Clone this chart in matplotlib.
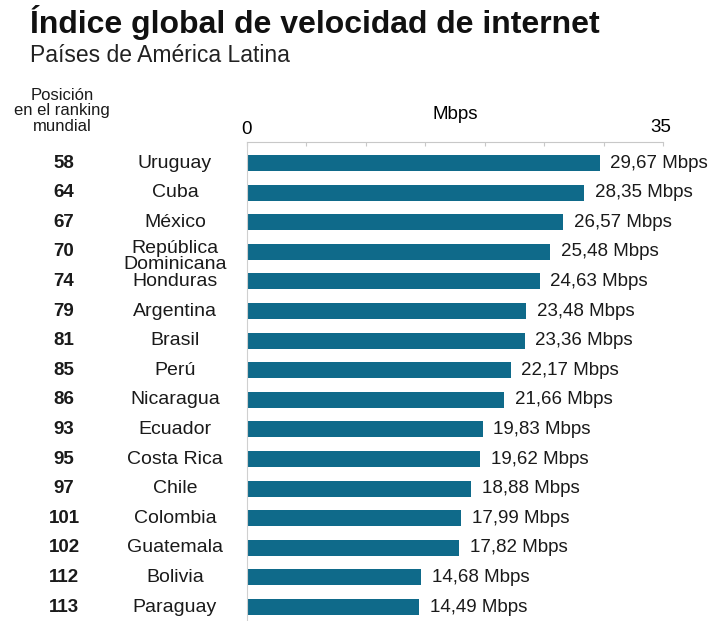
import numpy as np
import matplotlib.pyplot as plt

plt.rcParams['font.family'] = ['Liberation Sans', 'DejaVu Sans']

paises = ["Uruguay", "Cuba", "México", "República\nDominicana", "Honduras",
          "Argentina", "Brasil", "Perú", "Nicaragua", "Ecuador", "Costa Rica",
          "Chile", "Colombia", "Guatemala", "Bolivia", "Paraguay"]
ranking = [58, 64, 67, 70, 74, 79, 81, 85, 86, 93, 95, 97, 101, 102, 112, 113]
mbps = [29.67, 28.35, 26.57, 25.48, 24.63, 23.48, 23.36, 22.17, 21.66,
        19.83, 19.62, 18.88, 17.99, 17.82, 14.68, 14.49]

W, H = 713, 621
fig = plt.figure(figsize=(W / 100, H / 100), dpi=100)
ax = fig.add_axes([247 / W, 0, (663 - 247) / W, (H - 142) / H])

y = np.arange(len(paises))
ax.barh(y, mbps, height=0.54, color='#0f6a8a')
ax.set_xlim(0, 35)
ax.set_ylim(15.47, -0.71)

for s in ['right', 'bottom']:
    ax.spines[s].set_visible(False)
ax.spines['top'].set_color('#c8c8c8')
ax.spines['left'].set_color('#d0d0d0')
ax.xaxis.tick_top()
ax.set_xticks(np.arange(0, 36, 5))
ax.tick_params(axis='x', direction='in', length=3, color='#c8c8c8', labeltop=False)
ax.set_yticks([])

# etiquetas de valor al final de cada barra
for yi, v in zip(y, mbps):
    ax.text(v + 0.9, yi, f"{v:.2f} Mbps".replace('.', ','), va='center',
            ha='left', fontsize=13.5, color='#1a1a1a')

# columnas de posición y país a la izquierda
for yi, r, p in zip(y, ranking, paises):
    ax.annotate(str(r), xy=(64 / W, yi), xycoords=('figure fraction', 'data'),
                ha='center', va='center', fontsize=13.5, fontweight='bold',
                color='#1a1a1a', annotation_clip=False)
    ax.annotate(p, xy=(175 / W, yi + (0.15 if '\n' in p else 0)),
                xycoords=('figure fraction', 'data'),
                ha='center', va='center', fontsize=14, color='#1a1a1a',
                linespacing=0.92, annotation_clip=False)

fig.text(30 / W, 1 - 23 / H, "Índice global de velocidad de internet",
         fontsize=23, fontweight='bold', va='center', ha='left', color='#111111')
fig.text(30 / W, 1 - 56 / H, "Países de América Latina",
         fontsize=16.5, va='center', ha='left', color='#222222')
fig.text(62 / W, 1 - 111 / H, "Posición\nen el ranking\nmundial",
         fontsize=12, va='center', ha='center', color='#1a1a1a', linespacing=1.02)
fig.text(247 / W, 1 - 129 / H, "0", fontsize=13.5, ha='center', va='center')
fig.text(661 / W, 1 - 127 / H, "35", fontsize=13.5, ha='center', va='center')
fig.text(455 / W, 1 - 115 / H, "Mbps", fontsize=13.5, ha='center', va='center')

fig.savefig("out.png", dpi=100)
